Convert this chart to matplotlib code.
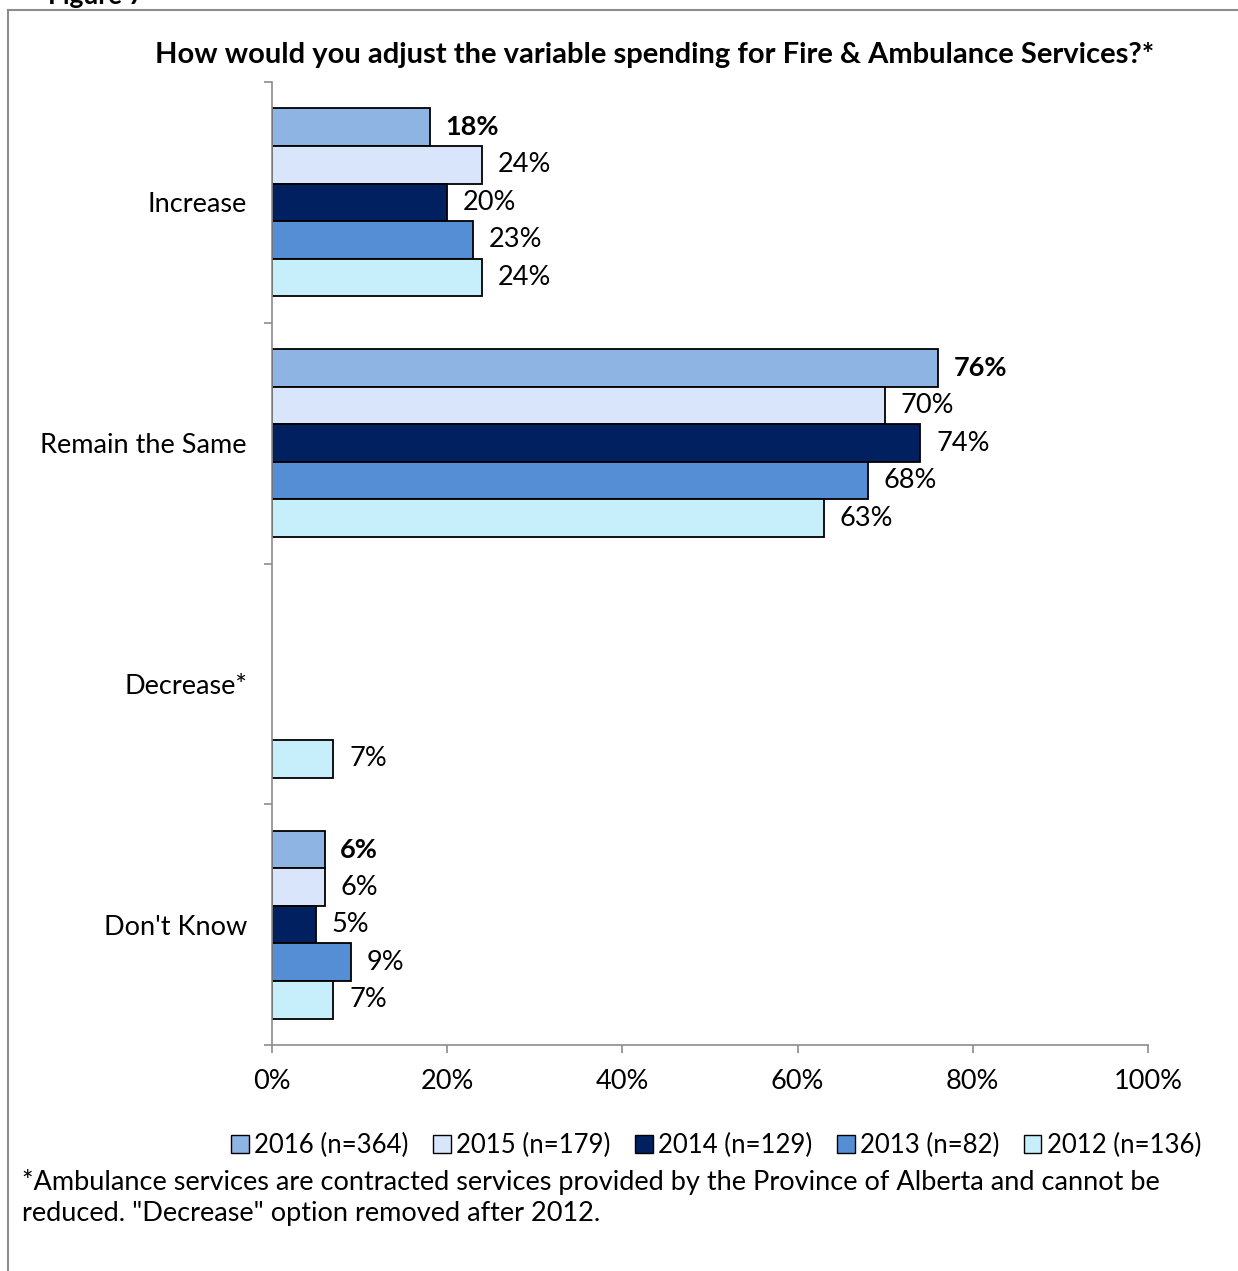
import numpy as np
import matplotlib
matplotlib.use("Agg")
import matplotlib.pyplot as plt
from matplotlib.lines import Line2D
from matplotlib.patches import Patch

plt.rcParams["font.family"] = ["Lato", "DejaVu Sans"]

categories = ["Increase", "Remain the Same", "Decrease*", "Don't Know"]
years = ["2016 (n=364)", "2015 (n=179)", "2014 (n=129)", "2013 (n=82)", "2012 (n=136)"]
colors = ["#8EB4E3", "#D9E5FA", "#002060", "#558ED5", "#C6EEFB"]

# percent per category, one list per survey year (None = option not offered)
v2016 = [18, 76, None, 6]
v2015 = [24, 70, None, 6]
v2014 = [20, 74, None, 5]
v2013 = [23, 68, None, 9]
v2012 = [24, 63, 7, 7]
series = [v2016, v2015, v2014, v2013, v2012]

W, H = 1238, 1271
FS = 19.5
fig = plt.figure(figsize=(W / 100, H / 100), dpi=100)

# outer frame (only left and top edges fall inside the image)
x0, y0 = 8 / W, 1 - 10 / H
fig.add_artist(Line2D([x0, x0], [0, y0], transform=fig.transFigure, color="#8c8c8c", lw=1.5))
fig.add_artist(Line2D([x0, 1], [y0, y0], transform=fig.transFigure, color="#8c8c8c", lw=1.5))
fig.text(48 / W, 1 - 4 / H, "Figure 7", fontsize=19, fontweight="bold", va="baseline")

ax = fig.add_axes([272 / W, 1 - 1045 / H, (1148 - 272) / W, (1045 - 82) / H])

bar_h = 0.156
y = np.arange(len(categories))
for i, (vals, col, lab) in enumerate(zip(series, colors, years)):
    pos = y + (i - 2) * bar_h
    for p, v in zip(pos, vals):
        if v is None:
            continue
        ax.barh(p, v, height=bar_h, color=col, edgecolor="black", linewidth=1.3)
        ax.text(v + 1.8, p, f"{v}%", va="center", ha="left", fontsize=FS,
                fontweight="bold" if i == 0 else "normal")

ax.set_xlim(0, 100)
ax.set_ylim(len(categories) - 0.5, -0.5)
ax.set_xticks(np.arange(0, 101, 20))
ax.set_xticklabels([f"{t}%" for t in range(0, 101, 20)], fontsize=FS)
ax.set_yticks(y)
ax.set_yticklabels(categories, fontsize=FS)
ax.set_yticks(np.arange(-0.5, len(categories), 1), minor=True)
ax.tick_params(axis="y", which="major", length=0, pad=18)
ax.tick_params(axis="y", which="minor", length=6, color="#8c8c8c", width=1.2)
ax.tick_params(axis="x", length=6, color="#8c8c8c", width=1.2, pad=11)
for s in ["top", "right"]:
    ax.spines[s].set_visible(False)
for s in ["left", "bottom"]:
    ax.spines[s].set_color("#8c8c8c")
    ax.spines[s].set_linewidth(1.2)

fig.text(655 / W, 1 - 55 / H,
         "How would you adjust the variable spending for Fire & Ambulance Services?*",
         ha="center", va="center", fontsize=21, fontweight="bold")

handles = [Patch(facecolor=c, edgecolor="black", linewidth=1) for c in colors]
fig.legend(handles, years, loc="center", bbox_to_anchor=(716 / W, 1 - 1145 / H), ncol=5,
           frameon=False, fontsize=18.5, handlelength=0.7, handleheight=0.7,
           handletextpad=0.2, columnspacing=0.95)

fig.text(22 / W, 1 - 1182 / H,
         "*Ambulance services are contracted services provided by the Province of Alberta and cannot be",
         ha="left", va="center", fontsize=FS)
fig.text(22 / W, 1 - 1214 / H, "reduced. \"Decrease\" option removed after 2012.",
         ha="left", va="center", fontsize=FS)

fig.savefig("out.png", dpi=100)
